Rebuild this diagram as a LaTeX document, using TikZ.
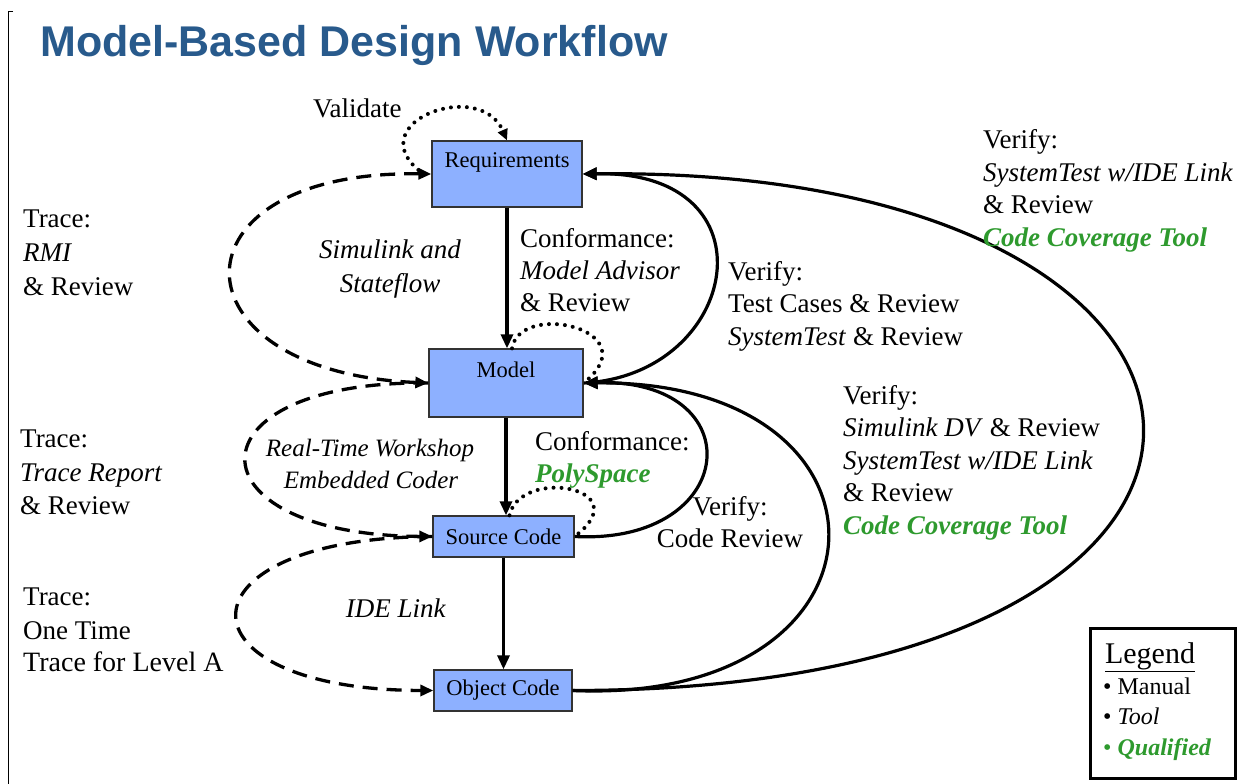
\documentclass[tikz,border=0pt]{standalone}
\usepackage{fontspec}
\setmainfont{Liberation Serif}
\newfontfamily\titlefont{Liberation Sans}
\usetikzlibrary{arrows.meta,calc}
\definecolor{boxblue}{RGB}{141,176,255}
\definecolor{titleblue}{RGB}{40,90,140}
\definecolor{qgreen}{RGB}{46,154,46}
\tikzset{
  box/.style={draw=black!80, line width=1.3pt, fill=boxblue, inner xsep=0pt,
    font=\fontsize{22.5}{24}\selectfont},
  txt/.style={anchor=base west, inner sep=0pt, font=\fontsize{27}{33}\selectfont},
  txtc/.style={anchor=base, inner sep=0pt, font=\fontsize{27}{33}\selectfont},
  vert/.style={line width=3.2pt, -{Triangle[length=14pt,width=12pt]}},
  solidarr/.style={line width=3.2pt, -{Triangle[length=14pt,width=12pt]}},
  dasharr/.style={line width=3.3pt, dash pattern=on 15pt off 9pt, -{Triangle[length=13pt,width=11pt]}},
  dashboth/.style={line width=3.3pt, dash pattern=on 15pt off 9pt, {Triangle[length=13pt,width=11pt]}-{Triangle[length=13pt,width=11pt]}},
  dotline/.style={line width=4pt, line cap=round, dash pattern=on 0pt off 8pt},
  dotarr/.style={dotline, -{Triangle[length=11pt,width=10pt]}},
  qual/.style={text=qgreen, font=\fontsize{27}{33}\selectfont\bfseries\itshape}
}
\begin{document}
\begin{tikzpicture}[x=1pt,y=-1pt]
\useasboundingbox (0,0) rectangle (1242,784);
% page frame line
\coordinate (fa) at (13,12);
\coordinate (fb) at (8,12);
\coordinate (fc) at (8,784);
\draw[line width=1pt] (fa) -- (fb) -- (fc);
% title
\node[anchor=base west, inner sep=0pt, text=titleblue,
  font=\titlefont\bfseries\fontsize{43}{50}\selectfont] (title) at (40,57) {Model-Based Design Workflow};
% boxes
\node[box, minimum width=150pt, inner ysep=4pt, text height=22pt, text depth=36pt] (Req) at (507,174) {Requirements};
\node[box, minimum width=154pt, inner ysep=4pt, text height=24pt, text depth=36pt] (Mod) at (506,383) {Model};
\node[box, minimum width=141pt, minimum height=41pt, inner ysep=0pt] (Src) at (503.5,536.5) {Source Code};
\node[box, minimum width=138pt, minimum height=41pt, inner ysep=0pt] (Obj) at (503,690.5) {Object Code};
% vertical flow
\draw[vert] (Req.south) -- (Req.south |- Mod.north);
\draw[vert] (Mod.south) -- (Mod.south |- Src.north);
\draw[vert] (Src.south) -- (Src.south |- Obj.north);
% dotted loops
\draw[dotarr] ($(Req.west)+(-13,-4)$) .. controls (362,122) and (480,78) .. (Req.north);
\draw[dotline] ($(Mod.north)+(6,0)$) .. controls (520,300) and (650,330) .. (Mod.east);
\draw[dotline] ($(Src.north)+(6,0)$) .. controls (520,467) and (640,487) .. (Src.east);
% solid verify curves
\draw[solidarr] (Mod.east) .. controls (740,375) and (778,170) .. (Req.east);
\draw[solidarr] (Obj.east) .. controls (1350,690) and (1310,165) .. (Req.east);
\draw[solidarr] (Src.east) .. controls (740,545) and (754,378) .. (Mod.east);
\draw[solidarr] (Obj.east) .. controls (905,705) and (915,380) .. (Mod.east);
% dashed trace curves
\draw[dashboth] (Req.west) .. controls (165,170) and (168,372) .. (Mod.west);
\draw[dasharr] (Mod.west) .. controls (185,380) and (185,535) .. (Src.west);
\draw[dasharr] (Src.west) .. controls (172,538) and (172,690) .. (Obj.west);
% texts
\node[txt] (val) at (313,117) {Validate};
\node[txt] (l1a) at (23,227) {Trace:};
\node[txt] (l1b) at (23,261) {\textit{RMI}};
\node[txt] (l1c) at (23,295) {\& Review};
\node[txtc] (sl1) at (390,258) {\textit{Simulink and}};
\node[txtc] (sl2) at (390,292) {\textit{Stateflow}};
\node[txt] (c1a) at (520,247) {Conformance:};
\node[txt] (c1b) at (520,279) {\textit{Model Advisor}};
\node[txt] (c1c) at (520,311) {\& Review};
\node[txt] (v1a) at (728,280) {Verify:};
\node[txt] (v1b) at (728,312) {Test Cases \& Review};
\node[txt] (v1c) at (728,345) {\textit{SystemTest} \& Review};
\node[txt] (v4a) at (983,148) {Verify:};
\node[txt] (v4b) at (983,181) {\textit{SystemTest w/IDE Link}};
\node[txt] (v4c) at (983,213) {\& Review};
\node[txt, qual] (v4d) at (983,246) {Code Coverage Tool};
\node[txt] (l2a) at (20,447) {Trace:};
\node[txt] (l2b) at (20,481) {\textit{Trace Report}};
\node[txt] (l2c) at (20,514) {\& Review};
\node[txtc, font=\fontsize{25}{30}\selectfont\itshape] (rt1) at (370,456) {Real-Time Workshop};
\node[txtc, font=\fontsize{25}{30}\selectfont\itshape] (rt2) at (371,488) {Embedded Coder};
\node[txt] (c2a) at (535,450) {Conformance:};
\node[txt, qual] (c2b) at (535,482) {PolySpace};
\node[txtc] (v2a) at (730,515) {Verify:};
\node[txtc] (v2b) at (730,547) {Code Review};
\node[txt] (v3a) at (843,404) {Verify:};
\node[txt] (v3b) at (843,436) {\textit{Simulink DV} \& Review};
\node[txt] (v3c) at (843,469) {\textit{SystemTest w/IDE Link}};
\node[txt] (v3d) at (843,501) {\& Review};
\node[txt, qual] (v3e) at (843,534) {Code Coverage Tool};
\node[txt] (l3a) at (23,605) {Trace:};
\node[txt] (l3b) at (23,639) {One Time};
\node[txt, font=\fontsize{28}{33}\selectfont] (l3c) at (23,671) {Trace for Level A};
\node[txtc] (ide) at (396,617) {\textit{IDE Link}};
% legend
\node[draw, line width=3pt, minimum width=145pt, minimum height=150pt, inner sep=0pt] (leg) at (1162.5,703) {};
\node[txtc, font=\fontsize{30}{33}\selectfont] (legt) at (1150,663) {\underline{Legend}};
\node[txt, font=\fontsize{24}{30}\selectfont] (lg1) at (1103,694) {\textbullet\ Manual};
\node[txt, font=\fontsize{24}{30}\selectfont] (lg2) at (1103,724) {\textbullet\ \textit{Tool}};
\node[txt, text=qgreen, font=\fontsize{24}{30}\selectfont] (lg3) at (1103,755) {\textbullet\ \textbf{\textit{Qualified}}};
\end{tikzpicture}
\end{document}
